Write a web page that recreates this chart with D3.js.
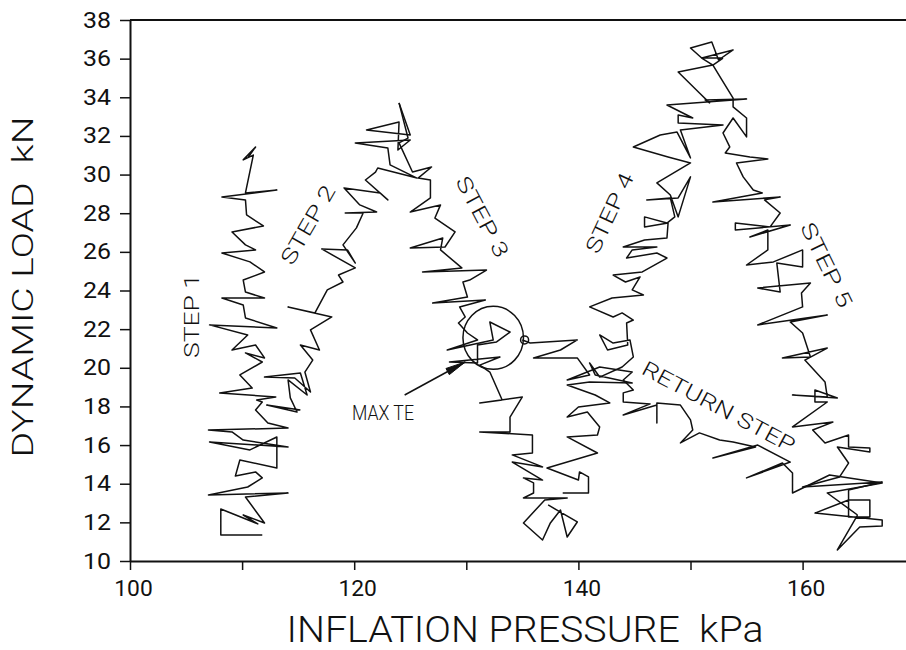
<!DOCTYPE html>
<html>
<head>
<meta charset="utf-8">
<script src="https://cdn.jsdelivr.net/npm/d3@7"></script>
<style>
  html, body { margin: 0; padding: 0; background: #fff; }
  svg text { font-family: Roboto, "Liberation Sans", "DejaVu Sans", sans-serif; font-weight: 400; fill: #111; white-space: pre; }
</style>
</head>
<body>
<svg id="chart" width="906" height="650"></svg>
<script>
// Axis ticks
const kPaTicks = [100, 110, 120, 130, 140, 150, 160, 170];
const kPaTickLabels = ["100", "", "120", "", "140", "", "160", ""];
const kNTicks = [10, 12, 14, 16, 18, 20, 22, 24, 26, 28, 30, 32, 34, 36, 38];

// Recorded loading path, [inflation pressure kPa, dynamic load kN]
const stepOne = [
  [111.8, 11.35], [108.1, 11.35], [108.1, 12.69], [111.4, 11.92], [110.1, 12.38], [112.0, 11.97],
  [110.3, 13.31], [114.1, 13.52], [107.0, 13.42], [110.5, 13.83], [111.8, 14.30], [111.2, 14.61],
  [109.4, 14.40], [109.8, 15.23], [113.1, 14.81], [113.1, 16.42], [110.7, 15.75], [107.1, 16.16],
  [114.1, 15.90], [110.1, 16.26], [109.1, 16.68], [107.0, 16.78], [114.1, 16.88], [112.3, 17.14],
  [111.2, 17.82], [111.8, 18.23], [111.3, 18.33], [113.0, 18.49], [108.0, 18.70], [110.9, 18.95],
  [109.8, 19.63], [111.8, 20.30], [110.3, 20.77], [112.0, 20.51], [111.2, 21.18], [109.1, 20.92],
  [110.5, 21.70], [107.1, 22.22], [113.1, 22.06], [110.3, 22.58], [110.1, 23.25], [108.2, 23.61],
  [112.0, 23.61], [110.3, 23.92], [110.1, 24.54], [112.0, 24.96], [110.7, 25.48], [108.2, 25.94],
  [111.2, 26.10], [110.3, 26.36], [109.1, 27.03], [111.9, 27.34], [110.4, 27.91], [110.3, 28.69],
  [108.2, 28.84], [113.1, 29.20], [110.3, 29.05], [111.0, 31.01], [110.1, 30.76], [111.2, 31.43],
  [110.5, 30.86]
];

const stepTwo = [
  [115.2, 17.82], [112.2, 18.07], [114.9, 17.71], [114.3, 18.44], [114.1, 19.37], [115.8, 18.59],
  [115.2, 19.73], [112.0, 19.52], [114.7, 19.47], [116.1, 18.75], [115.6, 19.78], [116.3, 20.40],
  [115.2, 21.18], [116.9, 20.92], [116.1, 21.96], [118.0, 22.63], [114.1, 23.15], [116.5, 22.84],
  [117.6, 24.03], [119.0, 24.44], [118.6, 24.80], [120.1, 25.17], [117.1, 26.15], [119.4, 26.10],
  [120.1, 25.42], [119.0, 26.36], [120.2, 27.24], [120.8, 28.01], [119.2, 28.01], [122.0, 28.06],
  [120.5, 28.43], [119.1, 29.31], [122.3, 29.05], [123.0, 28.69], [121.0, 29.72], [121.9, 30.13],
  [122.1, 30.34], [125.6, 29.82], [123.2, 30.50], [123.0, 31.38], [120.1, 31.64], [125.0, 31.79],
  [123.9, 31.27], [124.0, 32.72], [121.1, 32.31], [125.0, 32.05], [124.0, 33.71]
];

const stepThree = [
  [124.0, 33.71], [124.8, 31.89], [124.0, 31.64], [125.2, 30.13], [126.9, 30.39], [125.7, 29.82],
  [126.8, 29.72], [126.8, 28.79], [125.0, 28.06], [127.7, 28.43], [127.2, 27.75], [129.0, 27.03],
  [128.1, 26.25], [125.0, 26.20], [127.9, 26.72], [127.7, 26.10], [129.6, 25.17], [126.1, 24.96],
  [131.8, 25.06], [130.3, 24.54], [129.7, 24.44], [130.1, 23.66], [127.0, 23.35], [131.7, 23.51],
  [129.4, 23.15], [129.9, 22.63], [129.3, 22.32], [130.1, 21.80], [131.0, 21.44], [128.3, 20.92],
  [132.4, 21.44], [132.1, 22.37], [133.9, 21.85], [132.7, 21.34], [131.0, 21.18], [131.0, 20.25],
  [128.5, 20.30], [133.0, 20.56], [131.2, 20.14], [132.1, 19.78], [133.2, 18.33], [131.2, 18.18],
  [135.0, 18.49], [133.9, 17.45], [133.9, 16.68], [131.2, 16.68], [135.9, 16.52], [135.9, 15.59],
  [134.1, 15.49], [136.8, 14.87], [134.1, 15.12], [136.8, 14.19], [135.1, 14.30], [136.0, 14.04],
  [136.0, 13.52], [135.1, 13.26], [139.0, 13.26], [137.0, 13.16], [135.1, 11.97], [136.8, 11.09],
  [137.5, 11.97], [138.4, 12.64], [139.0, 11.24], [139.9, 12.02], [137.3, 12.90]
];

const stepFour = [
  [138.6, 13.52], [140.9, 13.52], [140.9, 14.35], [140.1, 14.61], [140.0, 14.19], [137.2, 14.81],
  [141.7, 15.59], [139.0, 16.42], [141.7, 16.52], [141.9, 16.94], [140.8, 17.71], [139.0, 17.45],
  [140.0, 17.97], [142.8, 18.18], [141.5, 18.59], [139.0, 19.11], [141.0, 19.27], [144.8, 19.21],
  [141.5, 19.63], [141.0, 20.25], [141.9, 19.52], [143.9, 20.04], [144.9, 20.56], [144.6, 21.44],
  [143.1, 21.28], [141.9, 21.70], [142.6, 20.92], [144.4, 21.18], [144.3, 22.32], [144.9, 22.47],
  [143.9, 22.84], [143.1, 22.63], [141.0, 23.15], [143.0, 23.61], [145.8, 23.77], [144.8, 24.03],
  [145.5, 24.70], [144.2, 24.44], [143.1, 24.80], [145.7, 24.96], [147.9, 25.68], [147.0, 25.94],
  [144.3, 25.68], [144.8, 26.10], [147.0, 26.25], [144.0, 26.25], [145.9, 26.61], [147.9, 26.72],
  [148.0, 27.49], [145.9, 27.29], [145.9, 27.81], [147.9, 27.49], [148.6, 27.81], [148.2, 28.79],
  [146.1, 28.69], [148.9, 28.79], [150.0, 29.88], [148.9, 27.81], [148.2, 28.94], [147.0, 29.57],
  [150.0, 30.60], [148.0, 30.91], [144.9, 31.43], [147.3, 32.05], [148.8, 32.20], [150.0, 30.86],
  [149.1, 32.31], [152.9, 32.57], [148.9, 32.67], [148.9, 33.08], [150.2, 32.93], [147.9, 33.60],
  [155.0, 33.91], [151.3, 33.86], [151.7, 33.71], [150.8, 34.22], [148.9, 35.31], [152.0, 35.67],
  [151.0, 36.03], [150.0, 36.55], [151.9, 36.86], [152.5, 35.93], [153.8, 36.45], [151.0, 36.03],
  [152.9, 36.03]
];

const stepFive = [
  [152.9, 36.03], [152.0, 35.67], [152.8, 34.90], [153.8, 33.96], [153.8, 33.50], [155.0, 32.93],
  [155.0, 31.95], [153.8, 32.93], [152.9, 32.15], [153.5, 31.43], [153.1, 31.12], [155.3, 30.91],
  [156.9, 30.81], [154.1, 30.60], [154.7, 29.88], [155.6, 29.20], [156.4, 29.05], [152.0, 28.58],
  [158.0, 28.84], [156.6, 28.69], [158.0, 28.01], [157.1, 27.29], [154.0, 27.49], [154.0, 27.13],
  [158.9, 27.39], [155.3, 26.77], [156.9, 27.13], [156.9, 26.10], [155.0, 25.32], [157.4, 25.48],
  [160.0, 26.10], [160.0, 25.22], [157.7, 25.42], [158.0, 23.92], [156.0, 24.13], [160.7, 24.39],
  [159.9, 23.87], [160.0, 23.15], [156.0, 22.22], [162.2, 22.73], [158.9, 22.37], [160.0, 21.80],
  [160.7, 20.56], [158.2, 20.51], [162.2, 21.02], [160.2, 20.40], [162.0, 19.27], [162.2, 18.49],
  [159.1, 18.59], [163.1, 18.44], [161.1, 18.85], [161.1, 18.23], [162.2, 18.23], [159.1, 16.94],
  [162.7, 17.19], [160.9, 16.78], [162.0, 16.11], [164.1, 16.52], [164.1, 15.90], [166.0, 15.85],
  [166.0, 15.64], [163.1, 15.90], [164.1, 15.07], [163.3, 14.35], [160.0, 13.83], [167.1, 14.09],
  [164.1, 13.67], [164.1, 12.28], [166.0, 12.28], [166.0, 13.16], [164.1, 13.16], [161.1, 12.48],
  [167.1, 12.12], [167.1, 11.81], [165.1, 11.76], [163.1, 10.57], [164.9, 12.38]
];

const returnStep = [
  [164.9, 12.38], [162.2, 13.52], [167.1, 14.04], [162.4, 14.45], [160.2, 13.83], [159.1, 13.52],
  [159.1, 14.55], [158.2, 15.07], [155.0, 14.30], [158.9, 15.12], [156.0, 16.00], [152.0, 15.33],
  [155.8, 15.90], [153.8, 16.16], [152.6, 16.26], [150.8, 16.63], [149.1, 16.11], [150.2, 16.78],
  [150.0, 17.30], [149.1, 18.07], [147.0, 18.18], [147.0, 17.14], [147.0, 18.07], [144.0, 17.56],
  [146.4, 18.13], [144.0, 18.23], [144.0, 18.70], [144.9, 18.85], [144.0, 19.37], [144.8, 19.78],
  [141.9, 20.04], [139.0, 19.37], [141.0, 19.63], [139.9, 20.51], [136.0, 20.51], [138.4, 20.92],
  [139.9, 21.44], [135.7, 21.28], [135.0, 21.44]
];

// Maximum tractive efficiency point and its pointer
const maxTE = { kPa: 132.4, kN: 21.55, dkPa: 2.7, dkN: 1.63 };
const maxTEArrow = [[124.5, 18.59], [129.9, 20.30]];
const maxTEMark = [135.2, 21.44];

// Annotation text anchored in data coordinates
const annotations = [
  { text: "STEP 1", kPa: 105.5, kN: 22.68, angle: -90, len: 84 },
  { text: "STEP 2", kPa: 115.9, kN: 27.39, angle: -60, len: 88 },
  { text: "STEP 3", kPa: 131.4, kN: 27.81, angle: 62, len: 89 },
  { text: "STEP 4", kPa: 142.8, kN: 28.01, angle: -65, len: 86 },
  { text: "STEP 5", kPa: 162.1, kN: 25.32, angle: 64, len: 92 },
  { text: "RETURN STEP", kPa: 152.5, kN: 17.97, angle: 28, len: 170 }
];

const W = 906, H = 650;
const svg = d3.select("#chart");

const x = d3.scaleLinear().domain([100, 170]).range([130, 130 + 70 * 11.21]);
const y = d3.scaleLinear().domain([10, 38]).range([561, 20]);

const ink = "#111";

// Top frame line
svg.append("line")
  .attr("x1", x(100)).attr("x2", W)
  .attr("y1", y(38)).attr("y2", y(38))
  .attr("stroke", ink).attr("stroke-width", 2);

// X axis
const xAxis = svg.append("g")
  .attr("transform", `translate(0,${y(10)})`)
  .call(d3.axisBottom(x)
    .tickValues(kPaTicks)
    .tickFormat((d, i) => kPaTickLabels[i])
    .tickSize(9).tickSizeOuter(0).tickPadding(10));
xAxis.select(".domain").attr("stroke", ink).attr("stroke-width", 2);
xAxis.selectAll(".tick line").attr("stroke", ink).attr("stroke-width", 1.5);
xAxis.selectAll(".tick text")
  .attr("font-size", 22).attr("dx", 3).attr("fill", ink)
  .style("font-family", "Roboto, 'Liberation Sans', sans-serif").style("font-weight", 400)
  .each(function (d, i) {
    const t = kPaTickLabels[i];
    if (t) d3.select(this).attr("textLength", t.length * 12.8).attr("lengthAdjust", "spacingAndGlyphs");
  });

// Y axis
const yAxis = svg.append("g")
  .attr("transform", `translate(${x(100)},0)`)
  .call(d3.axisLeft(y)
    .tickValues(kNTicks)
    .tickSize(10).tickSizeOuter(0).tickPadding(9));
yAxis.select(".domain").attr("stroke", ink).attr("stroke-width", 2);
yAxis.selectAll(".tick line").attr("stroke", ink).attr("stroke-width", 1.5);
yAxis.selectAll(".tick text")
  .attr("font-size", 22).attr("fill", ink)
  .style("font-family", "Roboto, 'Liberation Sans', sans-serif").style("font-weight", 400)
  .attr("textLength", d => String(d).length * 14)
  .attr("lengthAdjust", "spacingAndGlyphs");

// Axis titles
svg.append("text")
  .attr("x", 525).attr("y", 642)
  .attr("text-anchor", "middle")
  .attr("font-size", 37)
  .style("font-weight", 300)
  .attr("textLength", 477).attr("lengthAdjust", "spacingAndGlyphs")
  .text("INFLATION PRESSURE  kPa");

svg.append("text")
  .attr("transform", "translate(33,287) rotate(-90)")
  .attr("text-anchor", "middle")
  .attr("font-size", 30)
  .style("font-weight", 300)
  .attr("textLength", 341).attr("lengthAdjust", "spacingAndGlyphs")
  .text("DYNAMIC LOAD  kN");

// Loading path
const line = d3.line().x(d => x(d[0])).y(d => y(d[1]));
const series = [stepOne, stepTwo, stepThree, stepFour, stepFive, returnStep];
svg.append("g")
  .selectAll("path")
  .data(series)
  .join("path")
  .attr("d", line)
  .attr("fill", "none")
  .attr("stroke", ink)
  .attr("stroke-width", 1.5)
  .attr("stroke-linejoin", "round");

// Max TE circle and pointer
svg.append("ellipse")
  .attr("cx", x(maxTE.kPa)).attr("cy", y(maxTE.kN))
  .attr("rx", x(maxTE.kPa + maxTE.dkPa) - x(maxTE.kPa))
  .attr("ry", y(maxTE.kN) - y(maxTE.kN + maxTE.dkN))
  .attr("fill", "none").attr("stroke", ink).attr("stroke-width", 1.5);

svg.append("circle")
  .attr("cx", x(maxTEMark[0])).attr("cy", y(maxTEMark[1])).attr("r", 4)
  .attr("fill", "none").attr("stroke", ink).attr("stroke-width", 1.5);

const [a0, a1] = maxTEArrow;
const ax0 = x(a0[0]), ay0 = y(a0[1]), ax1 = x(a1[0]), ay1 = y(a1[1]);
svg.append("line")
  .attr("x1", ax0).attr("y1", ay0).attr("x2", ax1).attr("y2", ay1)
  .attr("stroke", ink).attr("stroke-width", 1.5);
const ang = Math.atan2(ay1 - ay0, ax1 - ax0);
const headLen = 20, headHalf = 3.5;
const bx = ax1 - headLen * Math.cos(ang), by = ay1 - headLen * Math.sin(ang);
svg.append("path")
  .attr("d", `M${ax1},${ay1}L${bx - headHalf * Math.sin(ang)},${by + headHalf * Math.cos(ang)}L${bx + headHalf * Math.sin(ang)},${by - headHalf * Math.cos(ang)}Z`)
  .attr("fill", ink).attr("stroke", ink).attr("stroke-width", 1);

svg.append("text")
  .attr("x", x(119.8)).attr("y", y(17.66))
  .attr("dominant-baseline", "central")
  .attr("font-size", 20)
  .style("font-weight", 300)
  .attr("textLength", 62).attr("lengthAdjust", "spacingAndGlyphs")
  .text("MAX TE");

// Step annotations
svg.append("g")
  .selectAll("text")
  .data(annotations)
  .join("text")
  .attr("transform", d => `translate(${x(d.kPa)},${y(d.kN)}) rotate(${d.angle})`)
  .attr("text-anchor", "middle")
  .attr("dominant-baseline", "central")
  .attr("font-size", 21)
  .style("font-weight", 300)
  .attr("textLength", d => d.len).attr("lengthAdjust", "spacingAndGlyphs")
  .text(d => d.text);
</script>
</body>
</html>
